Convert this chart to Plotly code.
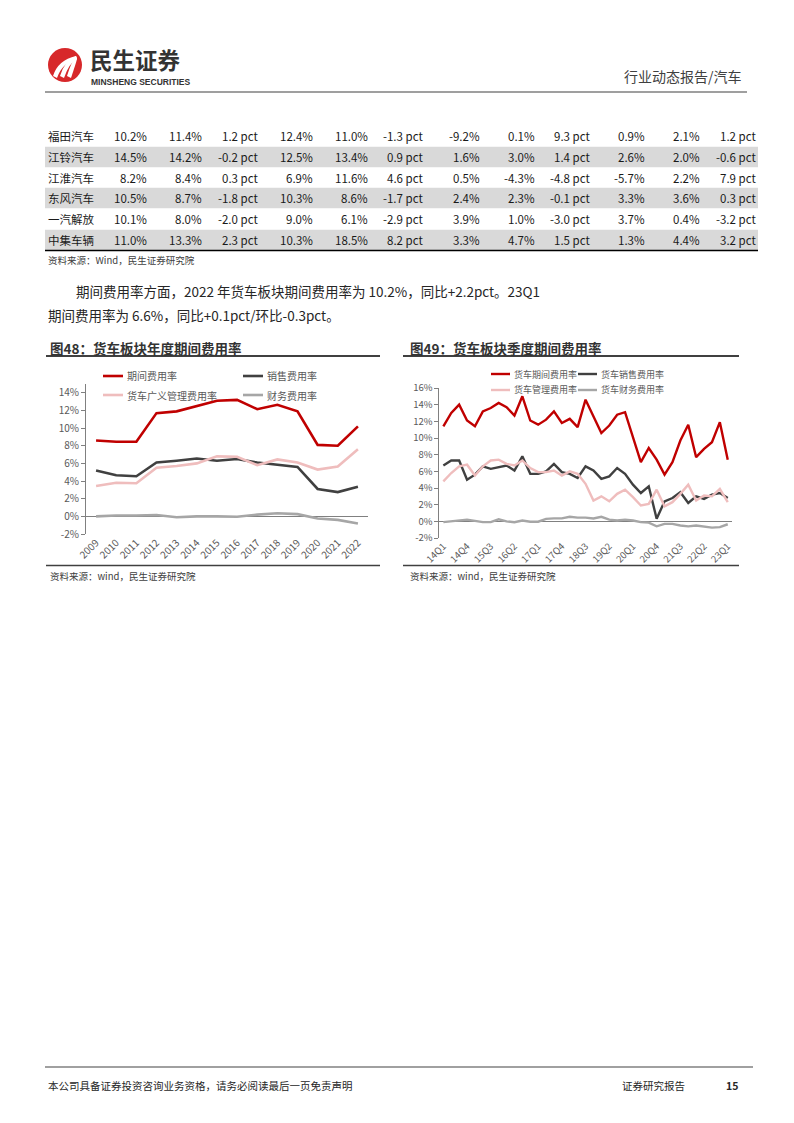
import plotly.graph_objects as go

W, H = 794, 1123
# the page body keeps its default 8px margin, so page coordinates are shifted back by it
OFF = 8


def px(x):
    return (x - OFF) / W


def py(y):
    return 1 - (y - OFF) / H


################################
######## DATA ########
################################

table_names = ['福田汽车', '江铃汽车', '江淮汽车', '东风汽车', '一汽解放', '中集车辆']
table_rows = [
    ['10.2%', '11.4%', '1.2 pct', '12.4%', '11.0%', '-1.3 pct', '-9.2%', '0.1%', '9.3 pct', '0.9%', '2.1%', '1.2 pct'],
    ['14.5%', '14.2%', '-0.2 pct', '12.5%', '13.4%', '0.9 pct', '1.6%', '3.0%', '1.4 pct', '2.6%', '2.0%', '-0.6 pct'],
    ['8.2%', '8.4%', '0.3 pct', '6.9%', '11.6%', '4.6 pct', '0.5%', '-4.3%', '-4.8 pct', '-5.7%', '2.2%', '7.9 pct'],
    ['10.5%', '8.7%', '-1.8 pct', '10.3%', '8.6%', '-1.7 pct', '2.4%', '2.3%', '-0.1 pct', '3.3%', '3.6%', '0.3 pct'],
    ['10.1%', '8.0%', '-2.0 pct', '9.0%', '6.1%', '-2.9 pct', '3.9%', '1.0%', '-3.0 pct', '3.7%', '0.4%', '-3.2 pct'],
    ['11.0%', '13.3%', '2.3 pct', '10.3%', '18.5%', '8.2 pct', '3.3%', '4.7%', '1.5 pct', '1.3%', '4.4%', '3.2 pct'],
]

years = ['2009', '2010', '2011', '2012', '2013', '2014', '2015', '2016', '2017', '2018', '2019', '2020', '2021', '2022']
annual_period = [8.6, 8.45, 8.45, 11.7, 11.9, 12.5, 13.1, 13.2, 12.15, 12.65, 11.9, 8.1, 8.0, 10.2]
annual_sales = [5.2, 4.65, 4.55, 6.1, 6.3, 6.55, 6.3, 6.5, 6.1, 5.85, 5.6, 3.1, 2.75, 3.35]
annual_admin = [3.45, 3.8, 3.75, 5.5, 5.7, 6.0, 6.8, 6.75, 5.8, 6.45, 6.1, 5.3, 5.65, 7.6]
annual_fin = [0.0, 0.1, 0.1, 0.15, -0.1, 0.0, 0.0, -0.05, 0.2, 0.35, 0.25, -0.25, -0.4, -0.8]

quarters = ['14Q1', '14Q2', '14Q3', '14Q4', '15Q1', '15Q2', '15Q3', '15Q4',
            '16Q1', '16Q2', '16Q3', '16Q4', '17Q1', '17Q2', '17Q3', '17Q4',
            '18Q1', '18Q2', '18Q3', '18Q4', '19Q1', '19Q2', '19Q3', '19Q4',
            '20Q1', '20Q2', '20Q3', '20Q4', '21Q1', '21Q2', '21Q3', '21Q4',
            '22Q1', '22Q2', '22Q3', '22Q4', '23Q1']
q_period = [11.4, 13.0, 14.0, 12.1, 11.4, 13.2, 13.6, 14.2, 13.7, 12.7, 15.0, 12.1, 11.6, 12.2, 13.2, 11.8, 12.3, 11.3,
            14.6, 12.7, 10.6, 11.5, 12.8, 13.1, 10.1, 7.1, 8.8, 7.4, 5.6, 7.1, 9.7, 11.6, 7.7, 8.7, 9.5, 11.9, 7.4]
q_sales = [6.7, 7.3, 7.3, 5.0, 5.6, 6.6, 6.3, 6.5, 6.7, 6.1, 7.8, 5.7, 5.7, 6.0, 6.9, 5.9, 5.7, 5.2,
           6.6, 6.1, 5.1, 5.4, 6.4, 5.7, 4.4, 3.4, 4.2, 0.3, 2.4, 2.8, 3.5, 2.2, 3.0, 2.7, 3.2, 3.4, 2.8]
q_admin = [4.8, 5.8, 6.6, 6.8, 5.5, 6.6, 7.3, 7.4, 6.9, 6.7, 7.3, 6.4, 5.9, 5.9, 6.1, 5.5, 6.0, 5.7,
           4.5, 2.5, 3.0, 2.4, 3.3, 3.8, 2.9, 1.9, 2.1, 3.8, 1.8, 2.3, 3.3, 4.4, 2.5, 3.1, 3.0, 3.9, 2.3]
q_fin = [-0.1, 0.0, 0.1, 0.2, 0.05, -0.1, -0.1, 0.25, 0.0, -0.1, 0.1, -0.05, -0.05, 0.3, 0.35, 0.35, 0.55, 0.45,
         0.45, 0.35, 0.55, 0.2, 0.1, 0.2, 0.1, -0.1, -0.15, -0.6, -0.3, -0.3, -0.5, -0.6, -0.5, -0.6, -0.75, -0.7, -0.35]

left_names = ['期间费用率', '销售费用率', '货车广义管理费用率', '财务费用率']
right_names = ['货车期间费用率', '货车销售费用率', '货车管理费用率', '货车财务费用率']


################################
######## STYLE ########
################################

FONT = 'Noto Sans CJK SC, Noto Sans, sans-serif'
RED = '#C00000'
DARK = '#404040'
PINK = '#EFBDBD'
GREY = '#A6A6A6'
TXT = '#595959'
colors = [RED, DARK, PINK, GREY]


fig = go.Figure()

#### left chart
for name, vals, col in zip(left_names, [annual_period, annual_sales, annual_admin, annual_fin], colors):
    fig.add_trace(go.Scatter(x=years, y=vals, mode='lines', name=name, showlegend=False,
                             line=dict(color=col, width=2.6), xaxis='x', yaxis='y'))

#### right chart
for name, vals, col in zip(right_names, [q_period, q_sales, q_admin, q_fin], colors):
    fig.add_trace(go.Scatter(x=quarters, y=vals, mode='lines', name=name, showlegend=False,
                             line=dict(color=col, width=2.4), xaxis='x2', yaxis='y2'))

ann = []
shapes = []


def text(x, y, s, size=11, color='#1a1a1a', anchor='left', bold=False, family=FONT):
    ann.append(dict(x=px(x), y=py(y), xref='paper', yref='paper', text=s, showarrow=False,
                    xanchor=anchor, yanchor='middle',
                    font=dict(family=family, size=size, color=color, weight='bold' if bold else 'normal')))


def hline(x0, x1, y, color='#404040', width=1):
    shapes.append(dict(type='line', xref='paper', yref='paper', x0=px(x0), x1=px(x1), y0=py(y), y1=py(y),
                       line=dict(color=color, width=width)))


#### header
shapes.append(dict(type='circle', xref='paper', yref='paper', x0=px(48), x1=px(82), y0=py(82), y1=py(48),
                   fillcolor='#D7282A', line=dict(width=0)))
for dx in [0, 7, 14]:
    shapes.append(dict(type='path', xref='paper', yref='paper', fillcolor='white', line=dict(width=0),
                       path='M {} {} Q {} {} {} {} L {} {} Q {} {} {} {} Z'.format(
                           px(53 + dx), py(76), px(58 + dx), py(60), px(76), py(56),
                           px(77), py(59), px(62 + dx), py(63), px(57 + dx), py(78))))
text(88, 59.5, '民生证券', size=22.5, color='#333333', bold=True)
text(89, 81.5, 'MINSHENG SECURITIES', size=8.5, color='#333333', bold=True, family='Liberation Sans, Arial')
text(744, 76, '行业动态报告/汽车', size=14, color='#404040', anchor='right')
hline(45, 747, 92, color='#404040', width=1.2)

#### table
row_y = [136, 157, 178, 198, 219, 240]
col_right = [149, 204, 260, 315, 370, 425, 482, 537, 592, 647, 702, 758]
for i in [1, 3, 5]:
    shapes.append(dict(type='rect', xref='paper', yref='paper', x0=px(45), x1=px(758),
                       y0=py(row_y[i] + 10.3), y1=py(row_y[i] - 10.3), fillcolor='#D9D9D9', line=dict(width=0),
                       layer='below'))
for name, row, y in zip(table_names, table_rows, row_y):
    text(46, y, name, size=11.5)
    for v, xr in zip(row, col_right):
        text(xr, y, v, size=11.5, anchor='right')
hline(45, 758, 250.5, color='#000000', width=1.5)
text(46, 260, '资料来源：Wind，民生证券研究院', size=9.5, color='#404040')

#### paragraph
text(74, 291, '期间费用率方面，2022 年货车板块期间费用率为 10.2%，同比+2.2pct。23Q1', size=13.5, color='#262626')
text(46, 315, '期间费用率为 6.6%，同比+0.1pct/环比-0.3pct。', size=13.5, color='#262626')

#### chart frames
text(48, 348, '图48：货车板块年度期间费用率', size=13.5, color='#333333', bold=True)
text(408, 348, '图49：货车板块季度期间费用率', size=13.5, color='#333333', bold=True)
hline(46, 380, 356, color='#404040', width=2)
hline(403, 739, 356, color='#404040', width=2)
hline(46, 380, 565.5, color='#404040', width=1.5)
hline(403, 739, 565.5, color='#404040', width=1.5)
text(48, 576, '资料来源：wind，民生证券研究院', size=9.5, color='#404040')
text(408, 576, '资料来源：wind，民生证券研究院', size=9.5, color='#404040')

#### legends
left_leg = [(103, 376), (243, 376), (103, 395), (243, 395)]
for name, col, (lx, ly) in zip(left_names, colors, left_leg):
    hline(lx, lx + 20, ly, color=col, width=2.6)
    text(lx + 22, ly, name, size=10, color=TXT)
right_leg = [(491, 374), (578, 374), (491, 390), (578, 390)]
for name, col, (lx, ly) in zip(right_names, colors, right_leg):
    hline(lx, lx + 19, ly, color=col, width=2.4)
    text(lx + 21, ly, name, size=9, color=TXT)

#### footer
hline(45, 753, 1067, color='#808080', width=1.5)
text(46, 1085, '本公司具备证券投资咨询业务资格，请务必阅读最后一页免责声明', size=10.5, color='#262626')
text(620, 1085, '证券研究报告', size=10.5, color='#262626')
text(740, 1085, '15', size=10.5, color='#262626', anchor='right', bold=True)

#### axes
tickfont = dict(family=FONT, size=10, color=TXT)
fig.update_layout(
    template='none',
    width=W, height=H, margin=dict(l=0, r=0, t=0, b=0, pad=0, autoexpand=False),
    paper_bgcolor='white', plot_bgcolor='rgba(0,0,0,0)',
    annotations=ann, shapes=shapes,
    xaxis=dict(domain=[px(86), px(368)], type='category', range=[-0.5, 13.5], tickangle=-45,
               showgrid=False, showline=False, ticks='', tickfont=tickfont, anchor='y', automargin=False),
    yaxis=dict(domain=[py(534), py(384)], range=[-2, 15], tickvals=list(range(-2, 15, 2)),
               ticktext=[f'{v}%' for v in range(-2, 15, 2)], showgrid=False, showline=True,
               linecolor='#808080', linewidth=1, ticks='outside', ticklen=4, tickcolor='#808080',
               zeroline=True, zerolinecolor='#808080', zerolinewidth=1, tickfont=tickfont, anchor='x',
               automargin=False),
    xaxis2=dict(domain=[px(439.4), px(731.7)], type='category', range=[-0.5, 36.5], tickangle=-45,
                tickvals=quarters[::3], ticktext=quarters[::3],
                showgrid=False, showline=False, ticks='', tickfont=dict(family=FONT, size=9.5, color=TXT),
                anchor='y2', automargin=False),
    yaxis2=dict(domain=[py(538), py(388)], range=[-2, 16], tickvals=list(range(-2, 17, 2)),
                ticktext=[f'{v}%' for v in range(-2, 17, 2)], showgrid=False, showline=True,
                linecolor='#808080', linewidth=1, ticks='outside', ticklen=4, tickcolor='#808080',
                zeroline=True, zerolinecolor='#808080', zerolinewidth=1,
                tickfont=dict(family=FONT, size=9.5, color=TXT), anchor='x2', automargin=False),
)

fig.write_html('out.html')
